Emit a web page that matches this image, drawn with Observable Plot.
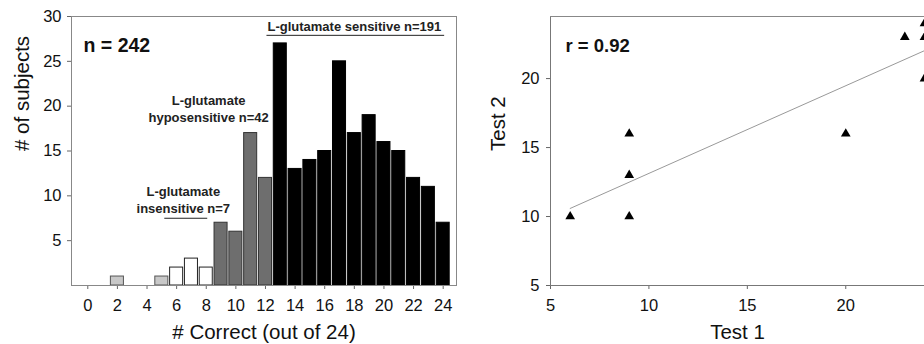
<!DOCTYPE html>
<html><head><meta charset="utf-8">
<script src="https://cdn.jsdelivr.net/npm/d3@7"></script>
<script src="https://cdn.jsdelivr.net/npm/@observablehq/plot@0.6"></script>
<style>
body{margin:0;background:#fff;}
#wrap{display:flex;width:924px;height:344px;overflow:hidden;}
#wrap svg{flex:none;}
</style>
</head><body><div id="wrap"></div>
<script>
// Histogram data
const scores = [2,5,6,7,8,9,10,11,12,13,14,15,16,17,18,19,20,21,22,23,24];
const counts = [1,1,2,3,2,7,6,17,12,27,13,14,15,25,17,19,16,15,12,11,7];
const groups = ["low","low","insensitive","insensitive","insensitive","hypo","hypo","hypo","hypo",
  "sensitive","sensitive","sensitive","sensitive","sensitive","sensitive","sensitive","sensitive","sensitive","sensitive","sensitive","sensitive"];
const xTicksLeft = [0,2,4,6,8,10,12,14,16,18,20,22,24];
const yTicksLeft = [5,10,15,20,25,30];

// Scatter data
const test1 = [6,9,9,9,20,23,24,24,24];
const test2 = [10,10,13,16,16,23,24,23,20];
const xTicksRight = [5,10,15,20];
const yTicksRight = [5,10,15,20];

const groupFill = {low:"#c8c8c8", insensitive:"#ffffff", hypo:"#6e6e6e", sensitive:"#000000"};
const groupStroke = {low:"#555", insensitive:"#222", hypo:"#333", sensitive:"#000"};

const hist = scores.map((s,i)=>({score:s, count:counts[i], group:groups[i]}));
const pts = test1.map((t,i)=>({t1:t, t2:test2[i]}));

const font = "'Liberation Sans', Arial, sans-serif";
const tickFont = 16.5;

const left = Plot.plot({
  width: 470, height: 344,
  marginLeft: 71, marginRight: 14, marginTop: 16, marginBottom: 59,
  style: {fontFamily: font, fontSize: "16px", color: "#111", background: "#fff", overflow: "visible"},
  x: {domain: [-1.1, 24.9]},
  y: {domain: [0, 30]},
  marks: [
    Plot.axisX({ticks: xTicksLeft, tickSize: 4, tickPadding: 10, label: null, fontSize: tickFont, stroke: "#666"}),
    Plot.axisY({ticks: yTicksLeft, tickSize: 4, tickPadding: 6, label: null, fontSize: tickFont, stroke: "#666"}),
    Plot.rectY(hist, {x1: d=>d.score-0.44, x2: d=>d.score+0.44, y: "count",
      fill: d=>groupFill[d.group], stroke: d=>groupStroke[d.group], strokeWidth: 1}),
    Plot.frame({stroke: "#888"}),
    Plot.text(["n = 242"], {frameAnchor: "top-left", dx: 12, dy: 22, textAnchor: "start", fontSize: 19.5, fontWeight: "bold"}),
    Plot.text(["L-glutamate sensitive n=191"], {x: [18.0], y: [28.8], fontSize: 13, fontWeight: "bold", fill: "#222"}),
    Plot.ruleY([27.9], {x1: 12.1, x2: 24.1, stroke: "#222"}),
    Plot.text(["L-glutamate\nhyposensitive n=42"], {x: [8.16], y: [19.8], fontSize: 13, fontWeight: "bold", fill: "#222", lineHeight: 1.3}),
    Plot.text(["L-glutamate\ninsensitive n=7"], {x: [6.45], y: [9.6], fontSize: 13, fontWeight: "bold", fill: "#222", lineHeight: 1.3}),
    Plot.ruleY([7.5], {x1: 5.2, x2: 8.1, stroke: "#222"}),
    Plot.text(["# Correct (out of 24)"], {frameAnchor: "bottom", dy: 53, fontSize: 20.5}),
    Plot.text(["# of subjects"], {frameAnchor: "left", dx: -49, rotate: -90, fontSize: 20.5})
  ]
});

const right = Plot.plot({
  width: 454, height: 344,
  marginLeft: 80, marginRight: 0, marginTop: 16, marginBottom: 59,
  style: {fontFamily: font, fontSize: "16px", color: "#111", background: "#fff", overflow: "visible"},
  x: {domain: [5, 24]},
  y: {domain: [5, 24.5]},
  marks: [
    Plot.axisX({ticks: xTicksRight, tickSize: 4, tickPadding: 10, label: null, fontSize: tickFont, stroke: "#666"}),
    Plot.axisY({ticks: yTicksRight, tickSize: 4, tickPadding: 7, label: null, fontSize: tickFont, stroke: "#666"}),
    Plot.ruleX([5], {stroke: "#777"}),
    Plot.ruleY([5], {stroke: "#777"}),
    Plot.ruleY([24.5], {stroke: "#888"}),
    Plot.linearRegressionY(pts, {x: "t1", y: "t2", ci: 0, stroke: "#999", strokeWidth: 1}),
    Plot.dot(pts, {x: "t1", y: "t2", symbol: "triangle", fill: "#000", r: 3.6}),
    Plot.text(["r = 0.92"], {frameAnchor: "top-left", dx: 15, dy: 22, textAnchor: "start", fontSize: 18.5, fontWeight: "bold"}),
    Plot.text(["Test 1"], {frameAnchor: "bottom", dx: 0, dy: 53, fontSize: 20.5}),
    Plot.text(["Test 2"], {frameAnchor: "left", dx: -52, rotate: -90, fontSize: 20.5})
  ]
});
document.getElementById("wrap").append(left, right);
</script>
</body></html>
